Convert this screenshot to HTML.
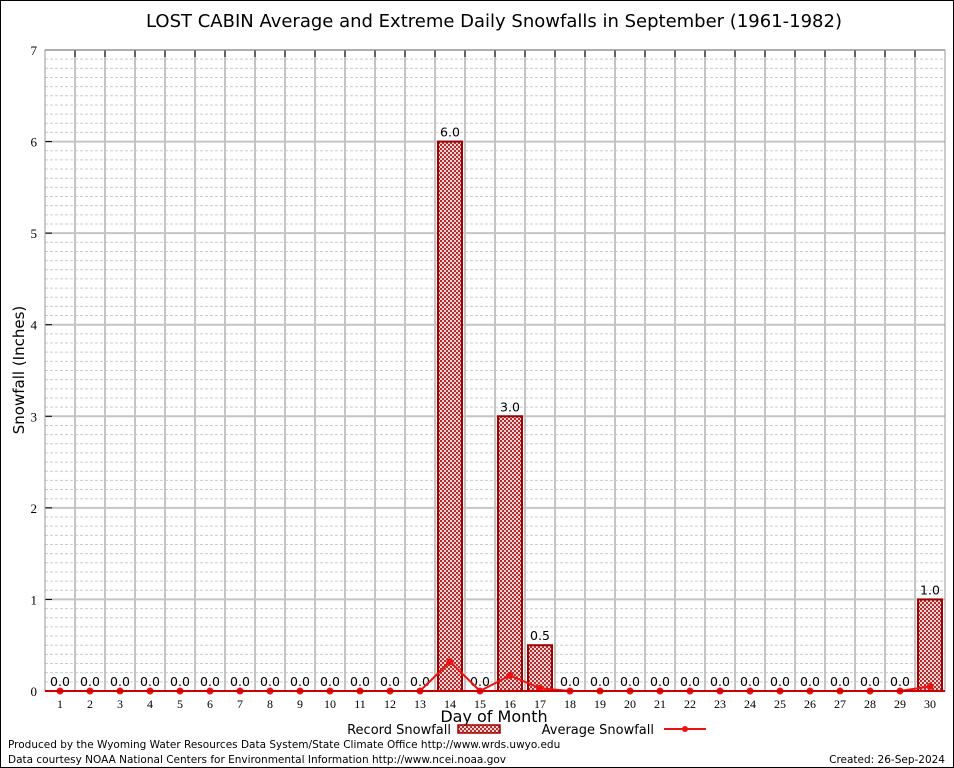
<!DOCTYPE html>
<html><head><meta charset="utf-8"><style>
html,body{margin:0;padding:0;background:#fff;}
svg{display:block;font-family:"DejaVu Sans","Liberation Sans",sans-serif;}
</style></head><body>
<svg id="chart" width="954" height="768" xmlns="http://www.w3.org/2000/svg">
<defs>
<pattern id="hatch" width="4" height="4" patternUnits="userSpaceOnUse">
<rect width="4" height="4" fill="#f4d4d4"/>
<rect x="0" y="0" width="2" height="2" fill="#b03030"/>
<rect x="2" y="2" width="2" height="2" fill="#b03030"/>
</pattern>
</defs>
<rect x="0.5" y="0.5" width="953" height="767" fill="#fff" stroke="#000"/>
<text x="494" y="27" font-size="18" text-anchor="middle">LOST CABIN Average and Extreme Daily Snowfalls in September (1961-1982)</text>
<g id="grid"></g>
<g id="bars"></g>
<g id="line"></g>
<g id="axes"></g>
<text x="24" y="370" font-size="15" text-anchor="middle" transform="rotate(-90 24 370)">Snowfall (Inches)</text>
<text x="494" y="722" font-size="16" text-anchor="middle">Day of Month</text>
<g>
<text x="451" y="734" font-size="13" text-anchor="end">Record Snowfall</text>
<rect x="458" y="725" width="42" height="8" fill="url(#hatch)" stroke="#a00000" stroke-width="1.5"/>
<text x="654" y="734" font-size="13" text-anchor="end">Average Snowfall</text>
<line x1="664" y1="729" x2="706" y2="729" stroke="#ee1111" stroke-width="2"/>
<circle cx="685" cy="729" r="3" fill="#ee1111"/>
</g>
<text x="8" y="748" font-size="10.5">Produced by the Wyoming Water Resources Data System/State Climate Office http://www.wrds.uwyo.edu</text>
<text x="8" y="763" font-size="10.5">Data courtesy NOAA National Centers for Environmental Information http://www.ncei.noaa.gov</text>
<text x="945" y="763" font-size="10.5" text-anchor="end">Created: 26-Sep-2024</text>
</svg>
<script>
const days = [1,2,3,4,5,6,7,8,9,10,11,12,13,14,15,16,17,18,19,20,21,22,23,24,25,26,27,28,29,30];
const recordSnow = [0,0,0,0,0,0,0,0,0,0,0,0,0,6.0,0,3.0,0.5,0,0,0,0,0,0,0,0,0,0,0,0,1.0];
const avgSnow = [0,0,0,0,0,0,0,0,0,0,0,0,0,0.32,0,0.17,0.03,0,0,0,0,0,0,0,0,0,0,0,0,0.05];
const yTicks = [0,1,2,3,4,5,6,7];

const NS="http://www.w3.org/2000/svg";
const L=45,R=945,T=50,B=691,yMax=7;
const slot=(R-L)/days.length;
const x=d=>L+slot*(d-0.5);
const y=v=>B-(v/yMax)*(B-T);
function mk(tag,attrs,parent){const e=document.createElementNS(NS,tag);for(const k in attrs)e.setAttribute(k,attrs[k]);parent.appendChild(e);return e;}
const grid=document.getElementById('grid'),bars=document.getElementById('bars'),lineG=document.getElementById('line'),axes=document.getElementById('axes');

for(let i=1;i<yMax*10;i++){if(i%10===0)continue;
 const g=mk('line',{x1:L,x2:R,y1:y(i/10),y2:y(i/10),stroke:'#ccc','stroke-width':1,'stroke-dasharray':'3,2'},grid);
 
 }
yTicks.forEach(t=>{
 const g=mk('line',{x1:L,x2:R,y1:y(t),y2:y(t),stroke:'#c4c4c4','stroke-width':2},grid);
 
 
 const tk=mk('line',{x1:L,x2:L+7,y1:y(t),y2:y(t),stroke:'#000','stroke-width':1},axes);
 
 
 const tx=mk('text',{x:L-8,y:y(t)+5,'font-size':13,'text-anchor':'end','font-family':'Liberation Serif, serif'},axes);
 tx.textContent=t;
 
 
});
for(let i=1;i<days.length;i++){
 const g=mk('line',{x1:L+slot*i,x2:L+slot*i,y1:T,y2:B,stroke:'#c4c4c4','stroke-width':2},grid);
 
 
 const tk=mk('line',{x1:L+slot*i,x2:L+slot*i,y1:T,y2:T+7,stroke:'#000'},axes);
 
 
}
const frame=mk('rect',{x:L,y:T,width:R-L,height:B-T,fill:'none',stroke:'#999','stroke-width':1},axes);


const base=mk('line',{x1:L,x2:R,y1:B,y2:B,stroke:'#cc0000','stroke-width':2},axes);



days.forEach((d,i)=>{
 const v=recordSnow[i];
 if(v>0){
  const r=mk('rect',{x:x(d)-12,y:y(v),width:24,height:B-y(v),fill:'url(#hatch)',stroke:'#a00000','stroke-width':2},bars);
  
  
 }
 const lb=mk('text',{x:x(d),y:y(v)-5,'font-size':12.5,'text-anchor':'middle'},bars);
 lb.textContent=v.toFixed(1);
 
 
 const xl=mk('text',{x:x(d),y:B+17,'font-size':12,'text-anchor':'middle','font-family':'Liberation Serif, serif'},axes);
 xl.textContent=d;
 
 
});
const pts=days.map((d,i)=>x(d)+','+y(avgSnow[i])).join(' ');
const pl=mk('polyline',{points:pts,fill:'none',stroke:'#ee1111','stroke-width':2},lineG);


days.forEach((d,i)=>{
 const c=mk('circle',{cx:x(d),cy:y(avgSnow[i]),r:3.5,fill:'#ee1111'},lineG);
 
 
});
</script>
</body></html>
